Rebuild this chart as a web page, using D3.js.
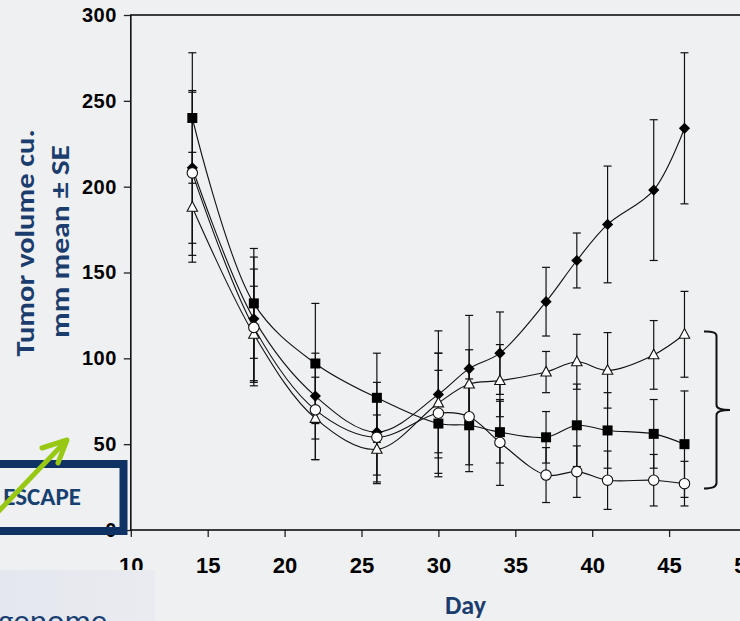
<!DOCTYPE html>
<html>
<head>
<meta charset="utf-8">
<script src="https://cdn.jsdelivr.net/npm/d3@7"></script>
<style>
  html, body { margin: 0; padding: 0; background: #eff0f2; }
  svg { display: block; }
</style>
</head>
<body>
<svg id="chart" width="740" height="621"></svg>
<script>
// Measurement days
const days = [14, 18, 22, 26, 30, 32, 34, 37, 39, 41, 44, 46];

// Mean tumour volume per group, with standard errors
const diamondMean = [211, 123, 78, 57, 79, 94, 103, 133, 157, 178, 198, 234];
const diamondSE   = [44, 36, 25, 29, 37, 31, 24, 20, 16, 34, 41, 44];
const squareMean  = [240, 132, 97, 77, 62, 61, 57, 54, 61, 58, 56, 50];
const squareSE    = [38, 32, 35, 26, 31, 27, 18, 15, 24, 22, 20, 31];
const triangleMean = [188, 114, 65, 47, 74, 85, 87, 92, 98, 93, 102, 114];
const triangleSE   = [32, 28, 24, 20, 29, 20, 21, 12, 16, 22, 20, 25];
const circleMean  = [208, 118, 70, 54, 68, 66, 51, 32, 34, 29, 29, 27];
const circleSE    = [48, 34, 29, 22, 35, 28, 25, 16, 15, 17, 15, 13];

// Axis ticks
const yTicks = [0, 50, 100, 150, 200, 250, 300];
const xTicks = [10, 15, 20, 25, 30, 35, 40, 45, 50];

const svg = d3.select("#chart");
const W = 740, H = 621;
const navy = "#0d3263";

svg.append("rect").attr("width", W).attr("height", H).attr("fill", "#eff0f2");

const x = d3.scaleLinear().domain([10, 50]).range([130.8, 746]);
const y = d3.scaleLinear().domain([0, 300]).range([530, 15]);

const tickFont = "'Liberation Sans', Arial, sans-serif";

// Y axis
const yAxis = svg.append("g")
  .attr("transform", `translate(${x(10)},0)`)
  .call(d3.axisLeft(y).tickValues(yTicks).tickSize(7).tickSizeOuter(0).tickPadding(7));
yAxis.selectAll("text")
  .attr("font-family", tickFont).attr("font-weight", "bold")
  .attr("font-size", 20).attr("fill", "#000").attr("letter-spacing", "0.5px");

// X axis
const xAxis = svg.append("g")
  .attr("transform", `translate(0,${y(0)})`)
  .call(d3.axisBottom(x).tickValues(xTicks).tickSize(7).tickSizeOuter(0).tickPadding(20));
xAxis.selectAll("text")
  .attr("font-family", tickFont).attr("font-weight", "bold")
  .attr("font-size", 22).attr("fill", "#000");

[yAxis, xAxis].forEach(a => {
  a.select(".domain").remove();
  a.selectAll(".tick line").attr("stroke", "#222").attr("stroke-width", 1.3);
});

// Plot frame
svg.append("rect")
  .attr("x", x(10)).attr("y", y(300))
  .attr("width", x(50) - x(10)).attr("height", y(0) - y(300))
  .attr("fill", "none").attr("stroke", "#111").attr("stroke-width", 1.6);

const series = [
  { name: "diamond", mean: diamondMean, se: diamondSE },
  { name: "square", mean: squareMean, se: squareSE },
  { name: "triangle", mean: triangleMean, se: triangleSE },
  { name: "circle", mean: circleMean, se: circleSE }
];
series.forEach(s => {
  s.points = days.map((d, i) => ({ day: d, v: s.mean[i], se: s.se[i] }));
});

// Error bars
const capHalf = 4;
const eb = svg.append("g").attr("stroke", "#111").attr("stroke-width", 1.2);
series.forEach(s => {
  s.points.forEach(p => {
    const cx = x(p.day), y1 = y(p.v + p.se), y0 = y(p.v - p.se);
    eb.append("line").attr("x1", cx).attr("x2", cx).attr("y1", y1).attr("y2", y0);
    eb.append("line").attr("x1", cx - capHalf).attr("x2", cx + capHalf).attr("y1", y1).attr("y2", y1);
    eb.append("line").attr("x1", cx - capHalf).attr("x2", cx + capHalf).attr("y1", y0).attr("y2", y0);
  });
});

// Smoothed lines
const line = d3.line()
  .x(d => x(d.day)).y(d => y(d.v))
  .curve(d3.curveCatmullRom.alpha(0.5));
series.forEach(s => {
  svg.append("path").datum(s.points)
    .attr("d", line).attr("fill", "none")
    .attr("stroke", "#111").attr("stroke-width", 1.1);
});

// Markers
const shapes = {
  diamond: r => `M0,${-r}L${r},0L0,${r}L${-r},0Z`,
  square: r => `M${-r},${-r}H${r}V${r}H${-r}Z`,
  triangle: r => `M0,${-r}L${r},${r * 0.85}L${-r},${r * 0.85}Z`
};
series.forEach(s => {
  const g = svg.append("g");
  s.points.forEach(p => {
    const cx = x(p.day), cy = y(p.v);
    if (s.name === "circle") {
      g.append("circle").attr("cx", cx).attr("cy", cy).attr("r", 5.2)
        .attr("fill", "#fff").attr("stroke", "#111").attr("stroke-width", 1.1);
    } else if (s.name === "diamond") {
      g.append("path").attr("transform", `translate(${cx},${cy})`)
        .attr("d", shapes.diamond(5.6)).attr("fill", "#000");
    } else if (s.name === "square") {
      g.append("path").attr("transform", `translate(${cx},${cy})`)
        .attr("d", shapes.square(5)).attr("fill", "#000");
    } else {
      g.append("path").attr("transform", `translate(${cx},${cy - 0.5})`)
        .attr("d", shapes.triangle(5.2)).attr("fill", "#fff")
        .attr("stroke", "#111").attr("stroke-width", 1.1);
    }
  });
});

// Curly bracket grouping the lower three groups
svg.append("path")
  .attr("d", "M704,331.5 Q716.5,331 716.5,336 L716.5,405 Q716.5,410 730,410 Q716.5,410 716.5,415 L716.5,483 Q716.5,488.5 704,488.5")
  .attr("fill", "none").attr("stroke", "#111").attr("stroke-width", 2);

// Axis titles
const titleFont = "Carlito, Lato, 'Open Sans', sans-serif";
const ttl = svg.append("g")
  .attr("font-family", titleFont).attr("font-weight", "bold")
  .attr("fill", "#1b3d6d");
ttl.append("text")
  .attr("transform", "translate(34,243) rotate(-90)")
  .attr("text-anchor", "middle").attr("font-size", 27)
  .attr("textLength", 227).attr("lengthAdjust", "spacingAndGlyphs")
  .text("Tumor volume  cu.");
ttl.append("text")
  .attr("transform", "translate(69,241.5) rotate(-90)")
  .attr("text-anchor", "middle").attr("font-size", 27)
  .attr("textLength", 193).attr("lengthAdjust", "spacingAndGlyphs")
  .text("mm mean  ±  SE");
ttl.append("text")
  .attr("x", 465.5).attr("y", 614)
  .attr("text-anchor", "middle").attr("font-size", 26)
  .text("Day");

// Slide overlay: label box and arrow
svg.append("rect")
  .attr("x", -10).attr("y", 464).attr("width", 133.5).attr("height", 67)
  .attr("fill", "none").attr("stroke", navy).attr("stroke-width", 8);
svg.append("text")
  .attr("x", 81).attr("y", 505).attr("text-anchor", "end")
  .attr("font-family", titleFont).attr("font-weight", "bold")
  .attr("font-size", 25).attr("fill", "#16406f")
  .text("ESCAPE");

const arrow = svg.append("g")
  .attr("stroke", "#99c814").attr("stroke-width", 5)
  .attr("stroke-linecap", "round").attr("stroke-linejoin", "round").attr("fill", "none");
arrow.append("line").attr("x1", -4).attr("y1", 514).attr("x2", 66).attr("y2", 441);
arrow.append("polyline").attr("points", "42,448 67,440 58,463");

// Lower-left panel
const grad = svg.append("defs").append("linearGradient")
  .attr("id", "panelFill").attr("x1", 0).attr("x2", 1).attr("y1", 0).attr("y2", 0);
grad.append("stop").attr("offset", "0%").attr("stop-color", "#e4e7ee");
grad.append("stop").attr("offset", "100%").attr("stop-color", "#e9ebf0");
svg.append("rect")
  .attr("x", 0).attr("y", 570).attr("width", 155).attr("height", 60)
  .attr("fill", "url(#panelFill)");
svg.append("text")
  .attr("x", -2).attr("y", 632)
  .attr("font-family", titleFont).attr("font-size", 33)
  .attr("fill", "#1a3f73")
  .text("genome");
</script>
</body>
</html>
